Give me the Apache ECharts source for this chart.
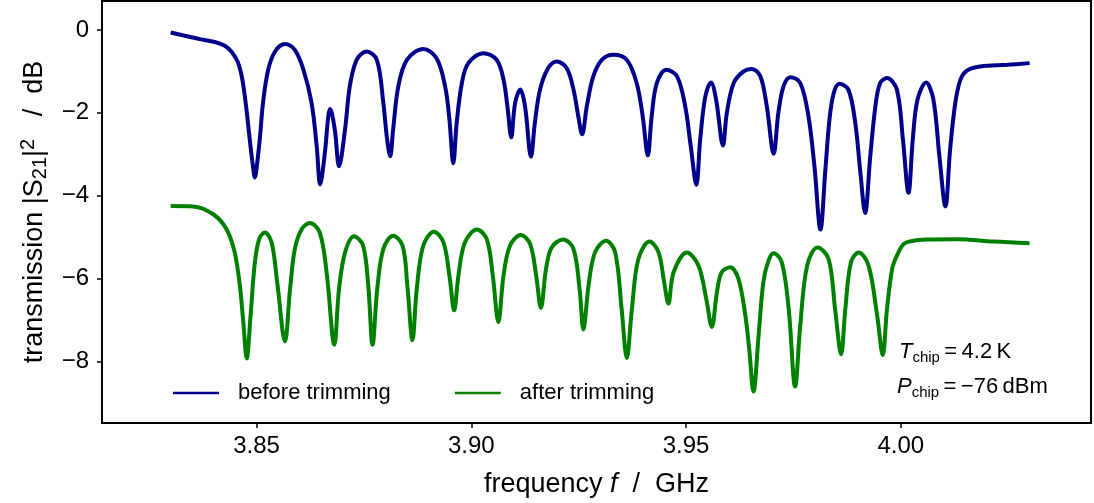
<!DOCTYPE html>
<html><head><meta charset="utf-8">
<script src="https://cdn.jsdelivr.net/npm/echarts@6/dist/echarts.min.js"></script>
<style>html,body{margin:0;padding:0;background:#fff}#c{width:1094px;height:503px}</style>
</head><body><div id="c"></div>
<script>
// frequency (GHz) and transmission (dB)
const beforeFreq=[3.8300,3.8333,3.8368,3.8403,3.8426,3.8442,3.8456,3.8466,3.8475,3.8484,
3.8491,3.8496,3.8501,3.8508,3.8515,3.8527,3.8543,3.8566,3.8589,3.8609,
3.8628,3.8640,3.8648,3.8659,3.8667,3.8671,3.8682,3.8692,3.8706,3.8717,
3.8733,3.8756,3.8780,3.8795,3.8803,3.8811,3.8818,3.8830,3.8850,3.8888,
3.8919,3.8939,3.8949,3.8958,3.8966,3.8978,3.8993,3.9028,3.9059,3.9075,
3.9084,3.9093,3.9102,3.9114,3.9125,3.9139,3.9148,3.9160,3.9179,3.9199,
3.9222,3.9238,3.9249,3.9258,3.9269,3.9284,3.9304,3.9331,3.9362,3.9385,
3.9399,3.9411,3.9420,3.9432,3.9454,3.9479,3.9498,3.9511,3.9524,3.9533,
3.9545,3.9558,3.9570,3.9586,3.9595,3.9611,3.9634,3.9653,3.9673,3.9688,
3.9704,3.9715,3.9727,3.9743,3.9766,3.9785,3.9799,3.9813,3.9824,3.9834,
3.9844,3.9857,3.9878,3.9894,3.9906,3.9917,3.9929,3.9941,3.9952,3.9968,
3.9991,4.0005,4.0018,4.0028,4.0039,4.0059,4.0076,4.0090,4.0104,4.0115,
4.0127,4.0139,4.0154,4.0185,4.0248,4.0300];
const beforeDb=[-0.06,-0.14,-0.22,-0.29,-0.38,-0.53,-0.77,-1.15,-1.80,-2.64,
-3.25,-3.56,-3.25,-2.57,-1.75,-0.96,-0.52,-0.34,-0.48,-0.96,
-1.76,-2.81,-3.73,-2.96,-2.08,-1.91,-2.40,-3.29,-2.40,-1.36,
-0.72,-0.52,-0.72,-1.75,-2.56,-3.05,-2.40,-1.36,-0.72,-0.46,
-0.68,-1.36,-2.16,-3.22,-2.24,-1.28,-0.80,-0.56,-0.72,-1.20,
-1.84,-2.59,-1.76,-1.44,-1.84,-3.06,-2.24,-1.44,-0.92,-0.76,
-0.92,-1.44,-2.08,-2.52,-1.84,-1.12,-0.72,-0.60,-0.72,-1.28,
-2.08,-3.03,-2.08,-1.28,-0.96,-1.12,-1.84,-2.81,-3.74,-2.64,
-1.60,-1.27,-1.68,-2.79,-2.00,-1.28,-1.00,-0.94,-1.12,-1.84,
-2.99,-2.00,-1.36,-1.14,-1.28,-2.08,-3.29,-4.82,-3.44,-2.16,
-1.52,-1.30,-1.44,-2.24,-3.44,-4.42,-3.05,-1.84,-1.28,-1.16,
-1.44,-2.64,-3.93,-2.64,-1.68,-1.27,-1.68,-3.05,-4.26,-2.88,
-1.76,-1.20,-0.98,-0.88,-0.84,-0.80];
const afterFreq=[3.8300,3.8352,3.8399,3.8430,3.8449,3.8461,3.8469,3.8477,3.8486,3.8496,
3.8506,3.8519,3.8535,3.8548,3.8566,3.8578,3.8589,3.8605,3.8624,3.8647,
3.8663,3.8681,3.8692,3.8706,3.8727,3.8748,3.8760,3.8770,3.8781,3.8795,
3.8818,3.8840,3.8851,3.8863,3.8873,3.8888,3.8913,3.8935,3.8949,3.8960,
3.8970,3.8985,3.9013,3.9036,3.9050,3.9063,3.9075,3.9090,3.9115,3.9137,
3.9151,3.9162,3.9174,3.9187,3.9214,3.9238,3.9252,3.9261,3.9273,3.9288,
3.9314,3.9335,3.9350,3.9362,3.9374,3.9389,3.9415,3.9436,3.9449,3.9459,
3.9471,3.9502,3.9529,3.9547,3.9560,3.9572,3.9583,3.9603,3.9622,3.9638,
3.9647,3.9657,3.9669,3.9680,3.9692,3.9704,3.9723,3.9739,3.9754,3.9766,
3.9782,3.9806,3.9832,3.9847,3.9861,3.9871,3.9884,3.9902,3.9925,3.9945,
3.9958,3.9968,3.9980,3.9991,4.0007,4.0030,4.0061,4.0131,4.0216,4.0300];
const afterDb=[-4.25,-4.26,-4.45,-4.81,-5.37,-6.17,-7.05,-7.93,-6.89,-5.61,
-5.05,-4.89,-5.13,-6.09,-7.52,-6.25,-5.29,-4.81,-4.66,-4.89,
-5.85,-7.60,-6.25,-5.37,-4.98,-5.21,-6.17,-7.60,-6.25,-5.29,
-4.97,-5.21,-6.17,-7.49,-6.25,-5.21,-4.87,-5.13,-5.93,-6.77,
-5.93,-5.13,-4.82,-5.05,-5.93,-7.05,-5.93,-5.21,-4.95,-5.17,
-5.93,-6.71,-5.77,-5.25,-5.06,-5.29,-6.25,-7.23,-6.17,-5.37,
-5.09,-5.37,-6.73,-7.92,-6.73,-5.53,-5.11,-5.37,-6.09,-6.61,
-5.85,-5.37,-5.69,-6.49,-7.17,-6.33,-5.85,-5.73,-6.01,-6.89,
-7.69,-8.73,-7.37,-6.09,-5.57,-5.39,-5.61,-6.73,-8.61,-7.13,
-5.69,-5.25,-5.53,-6.73,-7.83,-6.73,-5.61,-5.37,-5.69,-6.89,
-7.85,-6.73,-5.77,-5.45,-5.17,-5.09,-5.06,-5.05,-5.11,-5.15];
const xTicks=[3.85,3.90,3.95,4.00];
const yTicks=[-8,-6,-4,-2,0];
const seriesNames=['before trimming','after trimming'];

const FONT='"Liberation Sans", Arial, Helvetica, sans-serif';
const zip=(a,b)=>a.map((v,i)=>[v,b[i]]);
const txt=(o)=>Object.assign({fontFamily:FONT,color:'#000',fontWeight:'normal'},o);
const annRich={i:txt({fontSize:22,fontStyle:'italic',lineHeight:26,verticalAlign:'middle'}),
  s:txt({fontSize:15,lineHeight:15,verticalAlign:'bottom'}),
  n:txt({fontSize:22,lineHeight:26,verticalAlign:'middle'})};
const chart=echarts.init(document.getElementById('c'),null,{renderer:'canvas'});
chart.setOption({
  animation:false,
  backgroundColor:'#fff',
  grid:{left:102,right:3,top:1,bottom:78,show:true,borderColor:'#000',borderWidth:2,backgroundColor:'transparent'},
  xAxis:{type:'value',min:3.814,max:4.0443,
    axisLine:{show:true,onZero:false,lineStyle:{color:'#000',width:2}},
    axisTick:{show:true,length:5,customValues:xTicks,lineStyle:{color:'#000',width:1.5}},
    axisLabel:{customValues:xTicks,formatter:v=>v.toFixed(2),color:'#000',fontSize:24,fontFamily:FONT,margin:11},
    splitLine:{show:false},
    name:'{n|frequency }{i|f}{n|  /  GHz}',nameLocation:'middle',nameGap:48,
    nameTextStyle:txt({fontSize:27,rich:{n:txt({fontSize:27}),i:txt({fontSize:27,fontStyle:'italic'})}})
  },
  yAxis:{type:'value',min:-9.49,max:0.70,
    axisLine:{show:true,onZero:false,lineStyle:{color:'#000',width:2}},
    axisTick:{show:true,length:5,customValues:yTicks,lineStyle:{color:'#000',width:1.5}},
    axisLabel:{customValues:yTicks,formatter:v=>v===0?'0':'\u2212'+Math.abs(v),color:'#000',fontSize:24,fontFamily:FONT,margin:13},
    splitLine:{show:false},
    name:'{n|transmission |S}{sub|21}{n||}{sup|2}{n|   /  dB}',nameLocation:'middle',nameGap:42,nameRotate:90,
    nameTextStyle:txt({fontSize:27,rich:{
      n:txt({fontSize:27,lineHeight:32,verticalAlign:'middle'}),
      sub:txt({fontSize:20,lineHeight:19,verticalAlign:'bottom'}),
      sup:txt({fontSize:20,lineHeight:12,verticalAlign:'top'})}})
  },
  legend:{data:seriesNames,left:168,top:377,icon:'rect',itemWidth:46,itemHeight:2.5,itemGap:64,
    textStyle:txt({fontSize:22,padding:[0,0,0,14]})},
  title:[
    {text:'{i|T}{s|chip}{n|\u2009=\u20094.2\u2009K}',left:899,top:339,padding:0,textStyle:{rich:annRich}},
    {text:'{i|P}{s|chip}{n|\u2009=\u2009\u221276\u2009dBm}',left:897,top:374,padding:0,textStyle:{rich:annRich}}
  ],
  series:[
    {name:seriesNames[0],type:'line',data:zip(beforeFreq,beforeDb),showSymbol:false,smooth:0.35,
     lineStyle:{color:'#00008b',width:4},itemStyle:{color:'#00008b'}},
    {name:seriesNames[1],type:'line',data:zip(afterFreq,afterDb),showSymbol:false,smooth:0.35,
     lineStyle:{color:'#008000',width:4},itemStyle:{color:'#008000'}}
  ]
});
</script></body></html>
